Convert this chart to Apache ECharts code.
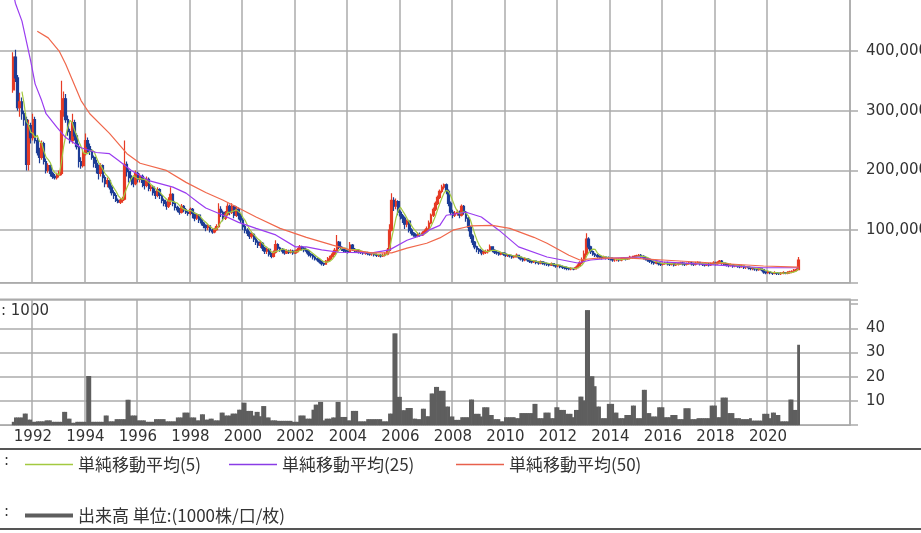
<!DOCTYPE html>
<html><head><meta charset="utf-8">
<script src="https://cdn.jsdelivr.net/npm/echarts@6/dist/echarts.min.js"></script>
<style>html,body{margin:0;padding:0;background:#fff;overflow:hidden}#c{width:921px;height:533px}</style>
</head><body><div id="c"></div>
<script>
// ---- axis range (monthly categories) ----
const axisFirstMonth = [1990, 10];
const axisLastMonth = [2023, 2];
const dataFirstMonth = '1991-04';
const yearLabels = ['1992','1994','1996','1998','2000','2002','2004','2006','2008','2010','2012','2014','2016','2018','2020'];

// ---- monthly candles, thousand yen: [open, close, low, high] ----
const ohlc = [
[335,390,330,398],[390,355,348,402],[355,305,300,360],[305,315,290,330],[315,295,285,322],[295,285,275,300],[285,210,200,290],[210,275,200,285],[275,255,245,280],
[255,285,250,295],[285,250,245,290],[250,230,225,255],[230,222,212,238],[222,245,218,250],[245,215,210,248],[215,200,195,220],[200,208,196,212],[208,195,190,210],[195,190,186,198],[190,188,185,194],[188,192,185,196],
[192,195,188,200],[195,300,192,350],[300,320,290,332],[320,285,280,328],[285,265,258,292],[265,250,245,270],[250,280,245,295],[280,258,250,285],[258,240,235,262],[240,215,205,245],[215,208,203,222],[208,228,205,235],
[228,250,225,262],[250,240,230,255],[240,232,226,245],[232,222,218,236],[222,212,205,225],[212,205,195,218],[205,195,185,210],[195,208,190,212],[208,188,180,210],[188,178,172,192],[178,183,172,188],[183,172,168,186],
[172,163,158,175],[163,158,152,167],[158,150,147,162],[150,147,145,153],[147,150,144,153],[150,152,146,156],[152,210,150,250],[210,198,190,215],[198,188,180,202],[188,183,175,192],[183,178,172,190],[178,195,175,200],
[195,185,180,198],[185,190,180,195],[190,180,172,193],[180,175,168,184],[175,185,172,190],[185,170,165,188],[170,172,165,176],[172,163,158,175],[163,158,152,166],[158,168,155,172],[168,158,152,170],[158,150,145,160],
[150,145,140,153],[145,140,134,148],[140,150,137,155],[150,160,142,172],[160,145,140,162],[145,138,133,148],[138,134,130,141],[134,130,126,137],[130,140,128,144],[140,134,130,142],[134,130,127,137],[130,128,124,133],
[128,135,125,138],[135,128,120,137],[128,120,115,130],[120,125,117,128],[125,117,112,127],[117,112,108,120],[112,108,103,114],[108,104,98,110],[104,107,100,110],[107,100,96,108],[100,97,94,102],[97,101,95,104],
[101,106,99,110],[106,135,104,145],[135,130,122,140],[130,120,115,133],[120,127,117,132],[127,140,124,145],[140,130,125,143],[130,140,127,145],[140,125,120,142],[125,135,122,140],[135,125,118,138],[125,117,112,128],
[117,106,100,120],[106,100,95,110],[100,95,90,103],[95,90,85,98],[90,93,86,96],[93,85,80,95],[85,80,75,88],[80,75,70,83],[75,78,70,82],[78,70,65,80],[70,65,60,72],[65,68,60,71],
[68,60,56,70],[60,56,53,62],[56,63,54,66],[63,76,61,83],[76,70,66,78],[70,68,64,72],[68,65,61,70],[65,62,59,67],[62,65,60,68],[65,63,60,67],[63,65,61,68],[65,62,59,67],
[62,64,60,67],[64,67,62,70],[67,72,65,75],[72,70,66,74],[70,67,63,72],[67,65,61,69],[65,60,56,67],[60,58,54,62],[58,55,51,60],[55,52,49,57],[52,50,47,54],[50,47,44,52],
[47,44,41,49],[44,43,40,46],[43,48,42,50],[48,52,46,55],[52,56,50,58],[56,60,54,63],[60,66,58,70],[66,80,64,92],[80,71,68,82],[71,68,65,73],[68,66,63,70],[66,65,62,68],
[65,64,61,67],[64,75,63,80],[75,68,65,77],[68,66,63,70],[66,65,62,68],[65,64,61,67],[64,63,60,66],[63,62,59,65],[62,62,59,64],[62,61,58,64],[61,60,57,63],[60,60,57,62],
[60,59,56,62],[59,58,55,61],[58,58,55,60],[58,57,54,60],[57,58,55,61],[58,60,56,63],[60,66,58,70],[66,100,64,110],[100,150,98,162],[150,140,132,155],[140,148,135,153],[148,130,125,150],
[130,124,118,133],[124,120,112,127],[120,110,102,123],[110,115,105,118],[115,100,96,117],[100,95,91,103],[95,92,89,97],[92,90,87,95],[90,93,88,96],[93,92,89,96],[92,95,90,98],[95,98,93,101],
[98,102,96,106],[102,112,100,116],[112,125,110,128],[125,135,122,138],[135,145,132,148],[145,155,142,158],[155,165,152,168],[165,172,162,176],[172,176,168,178],[176,165,160,178],[165,145,140,168],[145,130,125,148],
[130,125,120,134],[125,128,122,132],[128,130,124,134],[130,125,120,133],[125,140,123,143],[140,130,126,142],[130,120,114,132],[120,105,98,122],[105,90,85,107],[90,80,75,93],[80,72,68,82],[72,68,63,74],
[68,65,60,70],[65,62,58,67],[62,63,59,66],[63,64,60,67],[64,66,61,68],[66,72,64,76],[72,66,63,73],[66,63,60,68],[63,62,59,65],[62,60,57,64],[60,62,58,64],[62,60,57,63],
[60,58,55,62],[58,58,55,60],[58,57,54,60],[57,55,52,59],[55,56,53,58],[56,58,54,61],[58,55,52,59],[55,52,49,56],[52,50,47,54],[50,52,48,54],[52,50,47,53],[50,48,45,52],
[48,47,44,50],[47,48,45,50],[48,46,43,49],[46,45,42,48],[45,47,43,49],[47,45,42,48],[45,44,41,47],[44,43,40,46],[43,42,39,45],[42,44,40,46],[44,42,39,45],[42,40,37,43],
[40,41,38,43],[41,39,36,42],[39,38,35,41],[38,37,34,40],[37,36,33,39],[36,35,33,38],[35,36,33,38],[36,35,33,37],[35,37,34,39],[37,40,36,43],[40,45,39,48],[45,50,43,54],
[50,60,48,66],[60,85,58,95],[85,72,68,88],[72,64,60,74],[64,60,57,66],[60,58,55,62],[58,56,53,60],[56,55,52,58],[55,54,51,57],[54,55,52,57],[55,54,51,56],[54,53,50,56],
[53,52,49,55],[52,50,47,54],[50,50,47,52],[50,51,48,53],[51,50,47,53],[50,52,48,54],[52,53,50,55],[53,52,49,55],[52,53,50,55],[53,55,51,57],[55,55,52,57],[55,56,53,58],
[56,57,54,59],[57,58,55,60],[58,56,53,60],[56,54,51,58],[54,52,49,56],[52,50,47,54],[50,48,45,52],[48,46,43,50],[46,45,42,48],[45,46,43,48],[46,44,41,47],[44,43,40,46],
[43,44,41,46],[44,45,42,47],[45,44,41,47],[44,43,40,46],[43,44,41,46],[44,42,39,45],[42,43,40,45],[43,44,41,46],[44,45,42,47],[45,44,41,47],[44,43,40,46],[43,44,41,46],
[44,45,42,47],[45,44,41,47],[44,43,40,46],[43,45,41,47],[45,46,43,48],[46,44,41,47],[44,43,40,46],[43,42,39,45],[42,43,40,45],[43,42,39,45],[42,44,40,46],[44,45,42,48],
[45,44,41,47],[44,46,42,48],[46,48,44,50],[48,45,42,50],[45,43,40,46],[43,42,39,45],[42,41,38,44],[41,42,39,44],[42,40,37,43],[40,41,38,43],[41,40,37,42],[40,39,36,42],
[39,40,37,42],[40,38,35,41],[38,38,35,40],[38,37,34,39],[37,36,33,38],[36,36,33,38],[36,35,32,37],[35,34,31,36],[34,35,32,37],[35,34,31,36],[34,30,27,35],[30,29,26,31],
[29,30,27,32],[30,29,26,31],[29,28,25,30],[28,29,26,31],[29,28,25,30],[28,27,25,29],[27,28,25,30],[28,29,26,31],[29,28,26,30],[28,29,26,31],[29,30,27,32],[30,31,28,33],
[31,33,29,35],[33,34,31,36],[34,50,33,55]
];

// ---- monthly volume, unit 1000 ----
const volume = [
1.4,3.2,3.2,3.2,3.2,4.8,4.8,2.3,2.3,
1.4,1.4,1.6,1.6,1.6,1.6,2,2,2,1.4,1.4,1.4,
1.4,1.4,5.5,5.5,2.7,2.7,1,1,1.4,1.4,1.4,1.4,
1.4,20.3,20.3,1.4,1.4,1.4,1.4,1.4,1.4,4,4,1.6,
1.6,1.6,2.5,2.5,2.5,2.5,2.5,10.5,10.5,4,4,4,
2,2,2,2,1.4,1.4,1.4,1.4,2.5,2.5,2.5,2.5,
2.5,1.6,1.6,1.6,1.6,1.6,3.2,3.2,3.2,5.2,5.2,5.2,
3.2,3.2,3.2,2,2,4.5,4.5,2.3,2.3,2.7,2.7,2,
2,2,5.2,5.2,4,4,4,4.8,4.8,4.8,6.4,6.4,
9.3,9.3,5.9,5.9,5.9,4,5.5,5.5,3.7,7.9,7.9,3.2,
3.2,2,2,2,1.8,1.8,1.8,1.8,1.8,1.8,1.8,1.4,
1.4,1.4,4,4,4,2.7,2.7,2.7,6.4,8.5,8.5,9.6,
9.6,2,2.7,2.7,2.7,3.2,3.2,9.6,9.6,3.4,3.4,3.4,
2,2,5.9,5.9,5.9,1.6,1.6,1.6,1.6,2.5,2.5,2.5,
2.5,2.5,2.5,2.5,1.6,1.6,1.6,4.8,4.8,37.9,37.9,11.7,
11.7,6.2,6.2,7.1,7.1,7.1,2.7,2.7,2.5,2.5,6.8,6.8,
3.7,3.7,13.1,13.1,15.8,15.8,14.2,14.2,14.2,7.7,7.7,3.6,
3.6,2.2,2.2,2.2,3.3,3.3,3.3,3.3,10.6,10.6,4.7,4.7,
4.7,3.6,7.4,7.4,7.4,4.2,4.2,2.5,2.5,2.5,1.6,1.6,
3.3,3.3,3.3,3.3,3.3,2.9,2.9,5,5,5,5,5,
5,8.8,8.8,2.9,2.9,2.9,5.2,5.2,5.2,2.9,2.9,7.4,
7.4,6.3,6.3,6.3,4.7,4.7,4.7,3.3,6.3,6.3,11.8,11.8,
10.2,47.5,47.5,20.2,20.2,16.1,7.7,7.7,2.9,2.9,2.9,8.8,
8.8,8.8,5.2,5.2,2.9,2.9,2.9,4.2,4.2,4.2,8.1,8.1,
2.9,2.9,2.9,14.6,14.6,5,5,3.6,3.6,3.6,7.4,7.4,
7.4,3.3,3.3,3.3,4.2,4.2,4.2,2.5,2.5,2.5,7,7,
7,2.5,2.5,2.5,2.9,2.9,2.9,2.9,2.9,2.9,8.1,8.1,
8.1,3.3,3.3,11.4,11.4,11.4,5,5,5,2.9,2.9,2.9,
2.5,2.5,2.5,2.5,2.9,1.9,1.9,1.9,1.9,1.9,4.7,4.7,
4.7,2.9,5.2,5.2,4.2,4.2,1.6,1.6,1.6,1.6,10.6,10.6,
6.3,6.3,33.2
];

// ---- moving averages (month, thousand yen) ----
const ma25Points = [
['1991-04',498],['1991-05',480],['1991-08',450],['1991-12',383],['1992-02',345],['1992-05',317],['1992-07',295],['1992-12',272],
['1993-04',255],['1993-11',238],['1994-06',230],['1994-12',228],['1995-04',217],['1995-10',200],['1996-06',183],['1997-05',172],
['1997-11',162],['1998-05',145],['1998-08',137],['1999-04',125],['1999-11',113],['2000-07',103],['2001-04',92],['2002-01',72],
['2002-06',72],['2003-01',67],['2003-09',63],['2004-12',62],['2005-08',67],['2006-04',83],['2006-11',92],['2007-02',100],
['2007-07',108],['2007-10',125],['2008-07',130],['2009-02',122],['2009-10',100],['2010-07',72],['2011-08',55],['2012-10',45],
['2013-04',50],['2014-02',53],['2015-02',55],['2016-01',47],['2017-12',42],['2019-11',37],['2021-03',37]
];
const ma50Points = [
['1992-03',433],['1992-08',422],['1993-01',400],['1993-04',378],['1993-11',317],['1994-03',295],['1994-12',262],['1995-08',228],
['1996-02',212],['1997-02',200],['1997-11',180],['1998-08',163],['1999-04',150],['1999-11',137],['2000-07',122],['2001-06',103],
['2002-06',88],['2003-06',75],['2004-02',67],['2004-12',62],['2005-09',62],['2006-04',70],['2007-01',78],['2007-07',87],
['2008-01',100],['2008-09',107],['2009-07',108],['2010-03',103],['2011-02',88],['2011-08',78],['2012-06',58],['2012-11',50],
['2013-07',53],['2014-10',53],['2016-01',50],['2017-12',45],['2019-11',40],['2021-03',38]
];

const legendNames = ['単純移動平均(5)','単純移動平均(25)','単純移動平均(50)','出来高 単位:(1000株/口/枚)'];

// ---- build ----
const months = [];
{
  let y = axisFirstMonth[0], m = axisFirstMonth[1];
  while (y < axisLastMonth[0] || (y === axisLastMonth[0] && m <= axisLastMonth[1])) {
    months.push(y + '-' + String(m).padStart(2, '0'));
    m++; if (m > 12) { m = 1; y++; }
  }
}
const off = months.indexOf(dataFirstMonth);
const K = 1000;
const candleData = ohlc.map((r, i) => [off + i, r[0] * K, r[1] * K, r[2] * K, r[3] * K]);
const volData = volume.map((v, i) => [off + i, v]);
const closes = ohlc.map(r => r[1]);
const ma5Data = [];
for (let i = 4; i < closes.length; i++) {
  ma5Data.push([off + i, K * (closes[i] + closes[i-1] + closes[i-2] + closes[i-3] + closes[i-4]) / 5]);
}
const ma25Data = ma25Points.map(p => [months.indexOf(p[0]), p[1] * K]);
const ma50Data = ma50Points.map(p => [months.indexOf(p[0]), p[1] * K]);

const isYearTick = (idx, val) => typeof val === 'string' && val.slice(5) === '01' && yearLabels.indexOf(val.slice(0, 4)) >= 0;

const GRID = '#ababab';
const TXT = '#333';
const NUMFONT = 'DejaVu Sans';
const JPFONT = 'Noto Sans CJK JP';
const fmt = v => String(Math.round(v)).replace(/\B(?=(\d{3})+(?!\d))/g, ',');
const legendText = { color: TXT, fontFamily: JPFONT, fontSize: 17 };

const chart = echarts.init(document.getElementById('c'));
chart.setOption({
  animation: false,
  backgroundColor: '#fff',
  grid: [
    { left: -1, top: -8.7, width: 851, height: 291.4, show: true, borderColor: GRID, borderWidth: 1.5, outerBoundsMode: 'none', containLabel: false },
    { left: -1, top: 299.3, width: 851, height: 125.9, show: true, borderColor: GRID, borderWidth: 1.5, outerBoundsMode: 'none', containLabel: false }
  ],
  xAxis: [
    { type: 'category', gridIndex: 0, data: months, boundaryGap: true,
      axisLine: { show: false }, axisTick: { show: false }, axisLabel: { show: false },
      splitLine: { show: true, interval: isYearTick, lineStyle: { color: GRID, width: 1.5 } } },
    { type: 'category', gridIndex: 1, data: months, boundaryGap: true,
      axisLine: { show: false }, axisTick: { show: false },
      axisLabel: { show: true, interval: isYearTick, formatter: v => v.slice(0, 4), color: TXT, fontFamily: NUMFONT, fontSize: 15, margin: 4 },
      splitLine: { show: true, interval: isYearTick, lineStyle: { color: GRID, width: 1.5 } } }
  ],
  yAxis: [
    { type: 'value', gridIndex: 0, position: 'right', min: 12000, max: 500000, minInterval: 100000, maxInterval: 100000,
      axisLine: { show: false }, axisTick: { show: true, length: 8, lineStyle: { color: GRID, width: 1.5 } },
      axisLabel: { color: TXT, fontFamily: NUMFONT, fontSize: 15, margin: 16, formatter: v => (v >= 100000 && v <= 400000) ? fmt(v) : '' },
      splitLine: { show: true, lineStyle: { color: GRID, width: 1.5 } } },
    { type: 'value', gridIndex: 1, position: 'right', min: 0, max: 51.96, interval: 10,
      axisLine: { show: false }, axisTick: { show: true, length: 8, lineStyle: { color: GRID, width: 1.5 } },
      axisLabel: { color: TXT, fontFamily: NUMFONT, fontSize: 15, margin: 16, formatter: v => (v > 0 && v < 45) ? String(v) : '' },
      splitLine: { show: true, lineStyle: { color: [GRID, GRID, GRID, GRID, GRID, 'rgba(0,0,0,0)', GRID], width: 1.5 } } }
  ],
  legend: [
    { data: [legendNames[0]], left: 20, top: 451, icon: 'rect', itemWidth: 48, itemHeight: 1.5, itemGap: 0, selectedMode: false, textStyle: legendText },
    { data: [legendNames[1]], left: 224, top: 451, icon: 'rect', itemWidth: 48, itemHeight: 1.5, itemGap: 0, selectedMode: false, textStyle: legendText },
    { data: [legendNames[2]], left: 451, top: 451, icon: 'rect', itemWidth: 48, itemHeight: 1.5, itemGap: 0, selectedMode: false, textStyle: legendText },
    { data: [legendNames[3]], left: 20, top: 502, icon: 'rect', itemWidth: 48, itemHeight: 4, itemGap: 0, selectedMode: false, textStyle: legendText }
  ],
  graphic: [
    { type: 'line', shape: { x1: 0, y1: 449, x2: 921, y2: 449 }, style: { stroke: '#555', lineWidth: 2 }, silent: true },
    { type: 'line', shape: { x1: 0, y1: 529, x2: 921, y2: 529 }, style: { stroke: '#555', lineWidth: 2 }, silent: true },
    { type: 'text', left: 1, top: 304, style: { text: ': 1000', fill: TXT, font: '15px "DejaVu Sans"' }, silent: true },
    { type: 'text', left: 4, top: 454, style: { text: ':', fill: TXT, font: '15px "DejaVu Sans"' }, silent: true },
    { type: 'text', left: 4, top: 505, style: { text: ':', fill: TXT, font: '15px "DejaVu Sans"' }, silent: true }
  ],
  series: [
    { name: 'price', type: 'candlestick', xAxisIndex: 0, yAxisIndex: 0, data: candleData,
      encode: { x: 0, y: [1, 2, 3, 4] }, barWidth: '100%',
      itemStyle: { color: '#e63b25', color0: '#1d3d96', borderColor: '#e63b25', borderColor0: '#1d3d96', borderWidth: 1.2 } },
    { name: legendNames[0], type: 'line', xAxisIndex: 0, yAxisIndex: 0, data: ma5Data, showSymbol: false, symbol: 'none',
      lineStyle: { color: '#a3c940', width: 1.2 }, itemStyle: { color: '#a3c940' } },
    { name: legendNames[1], type: 'line', xAxisIndex: 0, yAxisIndex: 0, data: ma25Data, showSymbol: false, symbol: 'none',
      lineStyle: { color: '#9a3cf0', width: 1.2 }, itemStyle: { color: '#8a3ce6' } },
    { name: legendNames[2], type: 'line', xAxisIndex: 0, yAxisIndex: 0, data: ma50Data, showSymbol: false, symbol: 'none',
      lineStyle: { color: '#f0684c', width: 1.2 }, itemStyle: { color: '#e8604c' } },
    { name: legendNames[3], type: 'bar', xAxisIndex: 1, yAxisIndex: 1, data: volData, barWidth: '130%', barGap: '-100%',
      itemStyle: { color: '#5e5e5e', borderColor: '#5e5e5e', borderWidth: 0 } }
  ]
});
</script>
</body></html>
